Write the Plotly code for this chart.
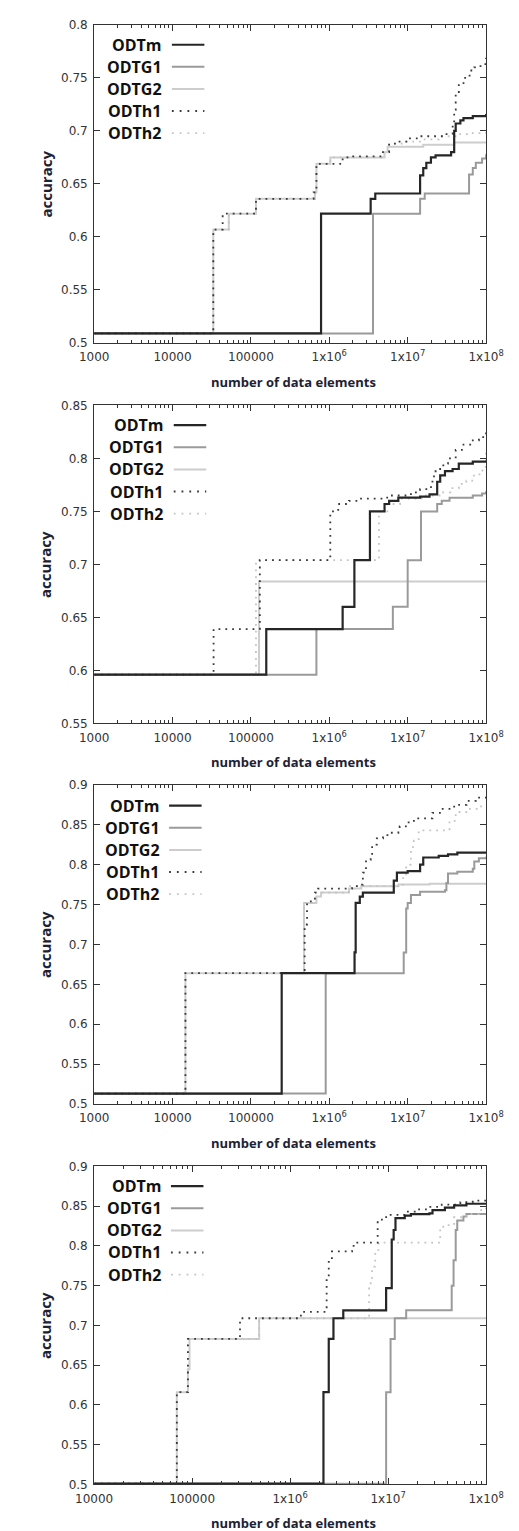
import plotly.graph_objects as go

SERIES = ["ODTm", "ODTG1", "ODTG2", "ODTh1", "ODTh2"]

# ---------------- Panel 1 ----------------
P1_ODTm_x = [1e3, 7.85e5, 3.37e6, 3.86e6, 1.44e7, 1.58e7, 1.73e7, 1.98e7, 2.27e7, 3.58e7, 3.92e7, 4.1e7, 4.7e7, 5.15e7, 6.77e7, 1e8]
P1_ODTm_y = [0.509, 0.622, 0.636, 0.641, 0.658, 0.665, 0.670, 0.675, 0.677, 0.680, 0.700, 0.707, 0.710, 0.712, 0.714, 0.716]
P1_ODTG1_x = [1e3, 3.61e6, 1.44e7, 1.65e7, 6.07e7, 6.77e7, 7.4e7, 8.9e7, 1e8]
P1_ODTG1_y = [0.509, 0.622, 0.636, 0.641, 0.659, 0.665, 0.670, 0.674, 0.678]
P1_ODTG2_x = [1e3, 3.31e4, 5.22e4, 1.16e5, 6.55e5, 6.85e5, 1.03e6, 5.06e6, 5.55e6, 1.58e7, 3.92e7, 1e8]
P1_ODTG2_y = [0.509, 0.607, 0.622, 0.636, 0.642, 0.669, 0.675, 0.680, 0.685, 0.687, 0.689, 0.689]
P1_ODTh1_x = [1e3, 3.31e4, 4.36e4, 1.16e5, 6.3e5, 6.85e5, 1.48e6, 1.86e6, 4.84e6, 5.8e6, 7.6e6, 1.0e7, 1.44e7, 2.99e7, 3.75e7, 3.92e7, 4.1e7, 4.49e7, 5.15e7, 6.16e7, 7.07e7, 8.5e7, 1e8]
P1_ODTh1_y = [0.509, 0.607, 0.622, 0.636, 0.642, 0.669, 0.675, 0.676, 0.680, 0.688, 0.690, 0.693, 0.695, 0.697, 0.705, 0.720, 0.735, 0.745, 0.750, 0.757, 0.760, 0.763, 0.769]
P1_ODTh2_x = [1e3, 3.31e4, 5.22e4, 1.16e5, 6.55e5, 6.85e5, 1.03e6, 4.84e6, 5.8e6, 8.7e6, 1.58e7, 2.5e7, 4.5e7, 6.77e7, 1e8]
P1_ODTh2_y = [0.509, 0.607, 0.622, 0.636, 0.642, 0.669, 0.675, 0.680, 0.688, 0.690, 0.692, 0.695, 0.697, 0.698, 0.699]

# ---------------- Panel 2 ----------------
P2_ODTm_x = [1e3, 1.57e5, 1.48e6, 2.09e6, 3.30e6, 5.07e6, 5.8e6, 7.6e6, 1.44e7, 1.9e7, 2.38e7, 2.6e7, 2.99e7, 3.74e7, 4.49e7, 6.77e7, 1e8]
P2_ODTm_y = [0.596, 0.639, 0.660, 0.704, 0.750, 0.757, 0.760, 0.763, 0.764, 0.766, 0.778, 0.784, 0.788, 0.790, 0.795, 0.797, 0.798]
P2_ODTG1_x = [1e3, 6.85e5, 6.47e6, 1.0e7, 1.48e7, 2.38e7, 2.72e7, 3.42e7, 6.77e7, 8.9e7, 1e8]
P2_ODTG1_y = [0.596, 0.639, 0.660, 0.704, 0.750, 0.757, 0.760, 0.763, 0.765, 0.767, 0.769]
P2_ODTG2_x = [1e3, 1.27e5, 1e8]
P2_ODTG2_y = [0.596, 0.684, 0.684]
P2_ODTh1_x = [1e3, 3.34e4, 1.3e5, 1.03e6, 1.3e6, 1.78e6, 2.34e6, 4.84e6, 6.08e6, 1.1e7, 1.44e7, 1.89e7, 2.07e7, 2.27e7, 2.85e7, 3.27e7, 4.1e7, 5.15e7, 6.77e7, 8.1e7, 1e8]
P2_ODTh1_y = [0.596, 0.639, 0.704, 0.750, 0.757, 0.760, 0.762, 0.763, 0.765, 0.768, 0.771, 0.773, 0.783, 0.790, 0.795, 0.800, 0.808, 0.813, 0.817, 0.820, 0.825]
P2_ODTh2_x = [1e3, 1.16e5, 4.3e6, 5.5e6, 8e6, 1.5e7, 2.7e7, 3.5e7, 4.5e7, 5.6e7, 7e7, 9e7, 1e8]
P2_ODTh2_y = [0.596, 0.704, 0.750, 0.757, 0.762, 0.765, 0.768, 0.772, 0.776, 0.779, 0.785, 0.792, 0.806]

# ---------------- Panel 3 ----------------
P3_ODTm_x = [1e3, 2.47e5, 2.1e6, 2.17e6, 2.45e6, 2.68e6, 6.65e6, 7.29e6, 1e7, 1.44e7, 1.58e7, 2.49e7, 3.27e7, 4.3e7, 1e8]
P3_ODTm_y = [0.513, 0.664, 0.690, 0.752, 0.760, 0.765, 0.780, 0.790, 0.792, 0.800, 0.809, 0.811, 0.813, 0.815, 0.816]
P3_ODTG1_x = [1e3, 9.0e5, 8.9e6, 9.57e6, 1.0e7, 1.1e7, 1.44e7, 2.99e7, 3.12e7, 3.27e7, 4.3e7, 6.77e7, 7.08e7, 8.1e7, 1e8]
P3_ODTG1_y = [0.513, 0.664, 0.690, 0.745, 0.752, 0.762, 0.766, 0.768, 0.777, 0.789, 0.791, 0.795, 0.804, 0.808, 0.810]
P3_ODTG2_x = [1e3, 1.46e4, 4.76e5, 6.85e5, 7.85e5, 1.78e6, 2.56e6, 7.6e6, 1.9e7, 1e8]
P3_ODTG2_y = [0.513, 0.664, 0.752, 0.760, 0.765, 0.770, 0.773, 0.775, 0.776, 0.776]
P3_ODTh1_x = [1e3, 1.46e4, 4.85e5, 5.2e5, 6.55e5, 7.2e5, 1.95e6, 2.45e6, 2.68e6, 2.94e6, 3.37e6, 3.52e6, 4.04e6, 4.84e6, 5.8e6, 7.6e6, 7.9e6, 1.0e7, 1.2e7, 2.07e7, 2.72e7, 3.92e7, 5.63e7, 7.4e7, 1e8]
P3_ODTh1_y = [0.513, 0.664, 0.725, 0.754, 0.765, 0.770, 0.773, 0.775, 0.790, 0.806, 0.810, 0.825, 0.833, 0.837, 0.840, 0.843, 0.848, 0.853, 0.858, 0.865, 0.870, 0.875, 0.880, 0.884, 0.887]
P3_ODTh2_x = [1e3, 1.46e4, 4.76e5, 6.55e5, 1.78e6, 7.6e6, 8.75e6, 9.57e6, 1.1e7, 1.2e7, 1.38e7, 3.42e7, 4.1e7, 5.6e7, 8.1e7, 1e8]
P3_ODTh2_y = [0.513, 0.664, 0.752, 0.765, 0.773, 0.775, 0.785, 0.800, 0.822, 0.830, 0.843, 0.855, 0.866, 0.870, 0.873, 0.874]

# ---------------- Panel 4 ----------------
P4_ODTm_x = [1e4, 2.19e6, 2.48e6, 2.77e6, 3.49e6, 9.55e6, 1.09e7, 1.14e7, 1.19e7, 1.48e7, 1.71e7, 2.64e7, 2.84e7, 3.8e7, 4.72e7, 6.3e7, 1e8]
P4_ODTm_y = [0.501, 0.616, 0.683, 0.709, 0.719, 0.747, 0.808, 0.820, 0.835, 0.838, 0.840, 0.841, 0.845, 0.848, 0.851, 0.853, 0.854]
P4_ODTG1_x = [1e4, 9.55e6, 1.06e7, 1.17e7, 1.53e7, 4.46e7, 4.66e7, 4.9e7, 5.08e7, 5.87e7, 6.3e7, 1e8]
P4_ODTG1_y = [0.501, 0.616, 0.683, 0.709, 0.719, 0.750, 0.782, 0.820, 0.832, 0.837, 0.840, 0.840]
P4_ODTG2_x = [1e4, 6.98e4, 9.06e4, 9.4e4, 4.83e5, 1e8]
P4_ODTG2_y = [0.501, 0.616, 0.645, 0.683, 0.709, 0.709]
P4_ODTh1_x = [1e4, 6.98e4, 9.06e4, 3.08e5, 1.29e6, 2.31e6, 2.36e6, 2.48e6, 2.67e6, 4.29e6, 4.45e6, 7.83e6, 9.55e6, 1.59e7, 1.97e7, 2.64e7, 3.53e7, 5.47e7, 7.31e7, 1e8]
P4_ODTh1_y = [0.501, 0.616, 0.683, 0.709, 0.717, 0.720, 0.757, 0.780, 0.793, 0.796, 0.804, 0.833, 0.839, 0.843, 0.846, 0.849, 0.852, 0.855, 0.857, 0.859]
P4_ODTh2_x = [1e4, 6.98e4, 9.06e4, 4.83e5, 6.4e6, 6.87e6, 7.39e6, 7.95e6, 8.87e6, 3.4e7, 3.66e7, 4.72e7, 6.3e7, 8.45e7, 1e8]
P4_ODTh2_y = [0.501, 0.616, 0.683, 0.709, 0.753, 0.774, 0.790, 0.803, 0.804, 0.824, 0.826, 0.836, 0.840, 0.845, 0.848]

# axis ranges / ticks
X_RANGES = [[3, 8], [3, 8], [3, 8], [4, 8]]
Y_RANGES = [[0.5, 0.8], [0.55, 0.85], [0.5, 0.9], [0.5, 0.9]]
X_TICKVALS_ALL = [1e3, 1e4, 1e5, 1e6, 1e7, 1e8]
X_TICKTEXT_ALL = ["1000", "10000", "100000", "1x10<sup>6</sup>", "1x10<sup>7</sup>", "1x10<sup>8</sup>"]
X_TITLE = "number of data elements"
Y_TITLE = "accuracy"

PANEL_DATA = [
    {"ODTm": (P1_ODTm_x, P1_ODTm_y), "ODTG1": (P1_ODTG1_x, P1_ODTG1_y), "ODTG2": (P1_ODTG2_x, P1_ODTG2_y),
     "ODTh1": (P1_ODTh1_x, P1_ODTh1_y), "ODTh2": (P1_ODTh2_x, P1_ODTh2_y)},
    {"ODTm": (P2_ODTm_x, P2_ODTm_y), "ODTG1": (P2_ODTG1_x, P2_ODTG1_y), "ODTG2": (P2_ODTG2_x, P2_ODTG2_y),
     "ODTh1": (P2_ODTh1_x, P2_ODTh1_y), "ODTh2": (P2_ODTh2_x, P2_ODTh2_y)},
    {"ODTm": (P3_ODTm_x, P3_ODTm_y), "ODTG1": (P3_ODTG1_x, P3_ODTG1_y), "ODTG2": (P3_ODTG2_x, P3_ODTG2_y),
     "ODTh1": (P3_ODTh1_x, P3_ODTh1_y), "ODTh2": (P3_ODTh2_x, P3_ODTh2_y)},
    {"ODTm": (P4_ODTm_x, P4_ODTm_y), "ODTG1": (P4_ODTG1_x, P4_ODTG1_y), "ODTG2": (P4_ODTG2_x, P4_ODTG2_y),
     "ODTh1": (P4_ODTh1_x, P4_ODTh1_y), "ODTh2": (P4_ODTh2_x, P4_ODTh2_y)},
]

# ---------------- styles / layout geometry ----------------
STYLE = {
    "ODTm": dict(color="#262626", width=2.2, dash="solid"),
    "ODTG1": dict(color="#9a9a9a", width=2.0, dash="solid"),
    "ODTG2": dict(color="#cdcdcd", width=2.0, dash="solid"),
    "ODTh1": dict(color="#3a3a3a", width=1.8, dash="1.8px,5px"),
    "ODTh2": dict(color="#c4c4c4", width=1.8, dash="1.8px,5px"),
}
DRAW_ORDER = ["ODTG2", "ODTG1", "ODTh2", "ODTh1", "ODTm"]

W, H = 519, 1531
PLOT_LEFT, PLOT_RIGHT = 72.3, 494.3
PANEL_PX = [(10, 331), (394, 715), (777, 1099), (1162, 1483)]  # top, bottom
LEG_TEXT_RIGHT = [147, 150, 145, 147]
LEG_LINE = [(156, 191), (158, 193), (153, 188), (155, 190)]
LEG_ROW0 = [30, 414, 798, 1182]
LEG_DY = 22.3

def fx(px):
    return px / W

def fy(py):
    return 1 - py / H

fig = go.Figure()
annotations = []
shapes = []

for i, pdata in enumerate(PANEL_DATA):
    n = "" if i == 0 else str(i + 1)
    top, bot = PANEL_PX[i]
    for s in DRAW_ORDER:
        xs, ys = pdata[s]
        st = STYLE[s]
        fig.add_trace(go.Scatter(
            x=xs, y=ys, mode="lines", name=s, line_shape="hv",
            line=dict(color=st["color"], width=st["width"], dash=st["dash"]),
            xaxis="x" + n, yaxis="y" + n, showlegend=False, hoverinfo="skip"))

    lo = X_RANGES[i][0]
    tv = [v for v in X_TICKVALS_ALL if v >= 10 ** lo]
    tt = X_TICKTEXT_ALL[len(X_TICKVALS_ALL) - len(tv):]
    fig.update_layout(**{
        "xaxis" + n: dict(
            type="log", range=X_RANGES[i], domain=[fx(PLOT_LEFT), fx(PLOT_RIGHT)],
            anchor="y" + n, tickvals=tv, ticktext=tt,
            ticks="inside", ticklen=6, tickcolor="#333", tickwidth=1,
            minor=dict(ticks="inside", ticklen=3, tickcolor="#333", dtick="D1"),
            showline=True, linecolor="#333", linewidth=1, mirror="allticks",
            showgrid=False, zeroline=False, ticklabelstandoff=3,
            tickfont=dict(family="DejaVu Sans", size=12, color="#333"),
        ),
        "yaxis" + n: dict(
            range=Y_RANGES[i], domain=[fy(bot), fy(top)], anchor="x" + n,
            dtick=0.05, ticks="inside", ticklen=6, tickcolor="#333",
            showline=True, linecolor="#333", linewidth=1, mirror="allticks",
            showgrid=False, zeroline=False, ticklabelstandoff=3,
            tickfont=dict(family="DejaVu Sans", size=12, color="#333"),
        ),
    })

    # axis titles
    annotations.append(dict(text=X_TITLE, xref="paper", yref="paper", x=fx(287), y=fy(bot + 39),
                            xanchor="center", yanchor="middle", showarrow=False,
                            font=dict(family="Open Sans", size=13, color="#1c2233", weight="bold")))
    annotations.append(dict(text=Y_TITLE, xref="paper", yref="paper", x=fx(20), y=fy((top + bot) / 2),
                            xanchor="center", yanchor="middle", textangle=-90, showarrow=False,
                            font=dict(family="Open Sans", size=15, color="#1c2233", weight="bold")))

    # manual legend (text left of sample, like gnuplot)
    for k, s in enumerate(SERIES):
        ry = LEG_ROW0[i] + k * LEG_DY
        annotations.append(dict(text=s, xref="paper", yref="paper", x=fx(LEG_TEXT_RIGHT[i]), y=fy(ry),
                                xanchor="right", yanchor="middle", showarrow=False,
                                font=dict(family="Open Sans", size=16, color="#111", weight="bold")))
        st = STYLE[s]
        x0, x1 = LEG_LINE[i]
        shapes.append(dict(type="line", xref="paper", yref="paper", x0=fx(x0), x1=fx(x1),
                           y0=fy(ry), y1=fy(ry),
                           line=dict(color=st["color"], width=st["width"],
                                     dash="1.8px,6px" if st["dash"] != "solid" else "solid")))

fig.update_layout(
    width=W, height=H, margin=dict(l=0, r=0, t=0, b=0),
    paper_bgcolor="white", plot_bgcolor="white",
    showlegend=False, annotations=annotations, shapes=shapes,
)

fig.write_html("out.html")
